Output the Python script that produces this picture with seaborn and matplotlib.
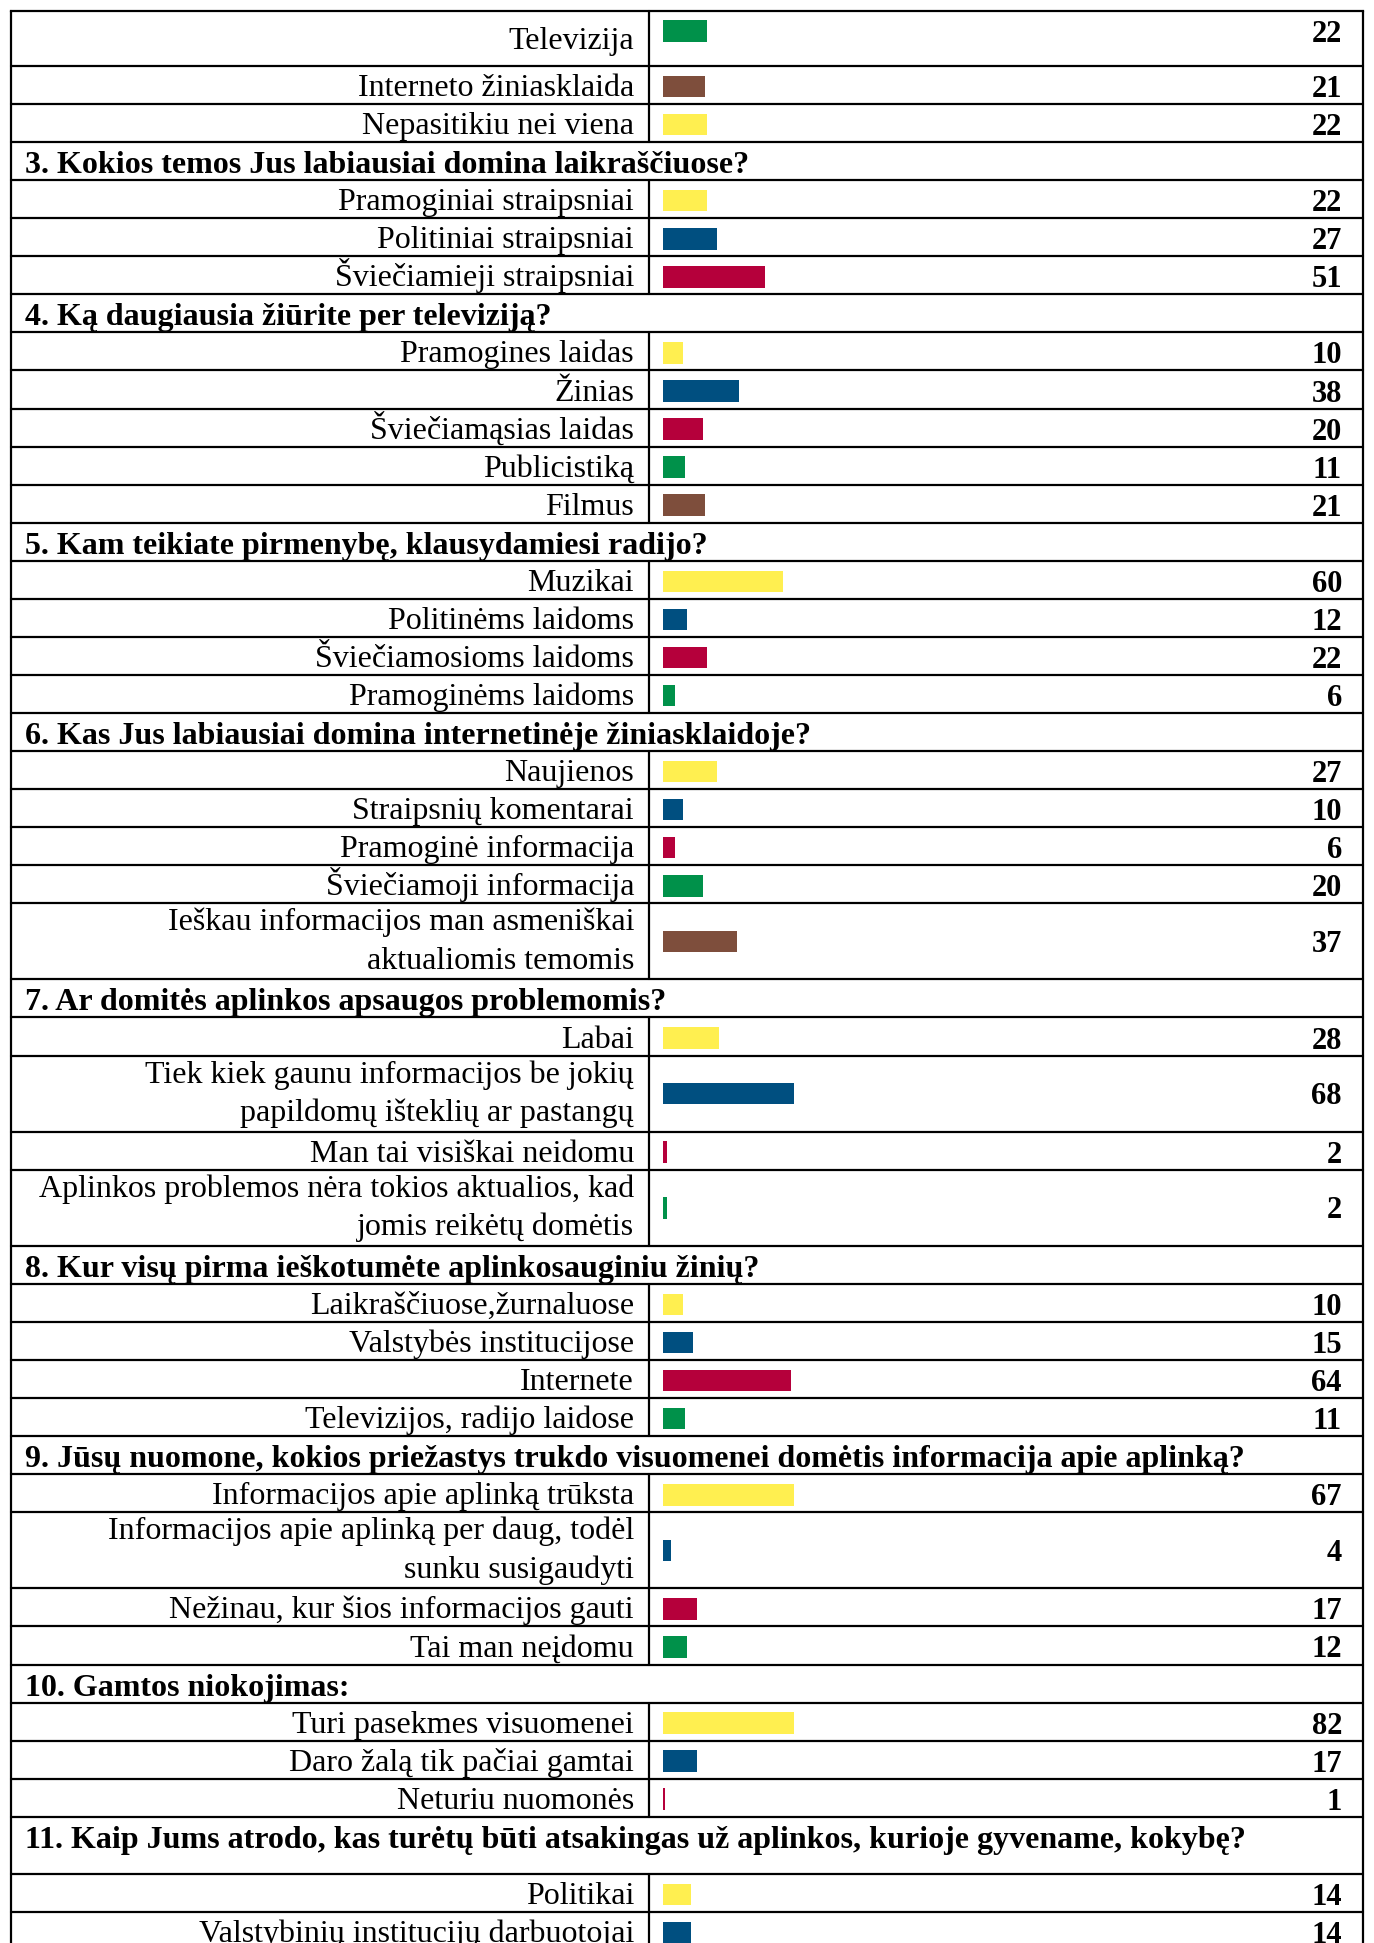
import matplotlib
matplotlib.use("Agg")
import matplotlib.pyplot as plt
import pandas as pd
import seaborn as sns

# ---------------------------------------------------------------- data
q2_answers = ["Televizija", "Interneto žiniasklaida", "Nepasitikiu nei viena"]
q2_counts = [22, 21, 22]

q3_title = "3. Kokios temos Jus labiausiai domina laikraščiuose?"
q3_answers = ["Pramoginiai straipsniai", "Politiniai straipsniai", "Šviečiamieji straipsniai"]
q3_counts = [22, 27, 51]

q4_title = "4. Ką daugiausia žiūrite per televiziją?"
q4_answers = ["Pramogines laidas", "Žinias", "Šviečiamąsias laidas", "Publicistiką", "Filmus"]
q4_counts = [10, 38, 20, 11, 21]

q5_title = "5. Kam teikiate pirmenybę, klausydamiesi radijo?"
q5_answers = ["Muzikai", "Politinėms laidoms", "Šviečiamosioms laidoms", "Pramoginėms laidoms"]
q5_counts = [60, 12, 22, 6]

q6_title = "6. Kas Jus labiausiai domina internetinėje žiniasklaidoje?"
q6_answers = ["Naujienos", "Straipsnių komentarai", "Pramoginė informacija",
              "Šviečiamoji informacija",
              "Ieškau informacijos man asmeniškai\naktualiomis temomis"]
q6_counts = [27, 10, 6, 20, 37]

q7_title = "7. Ar domitės aplinkos apsaugos problemomis?"
q7_answers = ["Labai",
              "Tiek kiek gaunu informacijos be jokių\npapildomų išteklių ar pastangų",
              "Man tai visiškai neidomu",
              "Aplinkos problemos nėra tokios aktualios, kad\njomis reikėtų domėtis"]
q7_counts = [28, 68, 2, 2]

q8_title = "8. Kur visų pirma ieškotumėte aplinkosauginiu žinių?"
q8_answers = ["Laikraščiuose,žurnaluose", "Valstybės institucijose", "Internete",
              "Televizijos, radijo laidose"]
q8_counts = [10, 15, 64, 11]

q9_title = ("9. Jūsų nuomone, kokios priežastys trukdo visuomenei domėtis "
            "informacija apie aplinką?")
q9_answers = ["Informacijos apie aplinką trūksta",
              "Informacijos apie aplinką per daug, todėl\nsunku susigaudyti",
              "Nežinau, kur šios informacijos gauti", "Tai man neįdomu"]
q9_counts = [67, 4, 17, 12]

q10_title = "10. Gamtos niokojimas:"
q10_answers = ["Turi pasekmes visuomenei", "Daro žalą tik pačiai gamtai", "Neturiu nuomonės"]
q10_counts = [82, 17, 1]

q11_title = ("11. Kaip Jums atrodo, kas turėtų būti atsakingas už aplinkos, "
             "kurioje gyvename, kokybę?")
q11_answers = ["Politikai", "Valstybinių institucijų darbuotojai"]
q11_counts = [14, 14]

# bar colours cycle through the same five shades in every question
shade_order = ["yellow", "blue", "red", "green", "brown"]
shade_hex = {"yellow": "#FFEF50", "blue": "#004F80", "red": "#B5003B",
             "green": "#00914A", "brown": "#7E4E3C"}

sections = [
    (None, q2_answers, q2_counts, 3),
    (q3_title, q3_answers, q3_counts, 0),
    (q4_title, q4_answers, q4_counts, 0),
    (q5_title, q5_answers, q5_counts, 0),
    (q6_title, q6_answers, q6_counts, 0),
    (q7_title, q7_answers, q7_counts, 0),
    (q8_title, q8_answers, q8_counts, 0),
    (q9_title, q9_answers, q9_counts, 0),
    (q10_title, q10_answers, q10_counts, 0),
    (q11_title, q11_answers, q11_counts, 0),
]

# ---------------------------------------------------------------- layout (pixels)
W, Hpx = 1374, 1943
ROW = 38.06          # height of a single-line row
TOP = 10.5
X_LEFT, X_DIV, X_RIGHT = 10.5, 649, 1363
X_LABEL = 634        # right edge of answer text
X_HEAD = 25          # left edge of question text
X_VALUE = 1342       # right edge of counts
BAR_X0 = 663
PX_PER_UNIT = 2.0
BAR_LIMIT = 65.3     # bar cell width in count units
LINE_STEP = 38.4

rows = []
for title, answers, counts, shift in sections:
    if title is not None:
        tall = 1.5 if title.startswith("11.") else 1.0
        rows.append(dict(kind="head", text=title, height=ROW * tall))
    for i, (a, c) in enumerate(zip(answers, counts)):
        n = a.count("\n") + 1
        rows.append(dict(kind="item", text=a, value=c,
                         shade=shade_order[(shift + i) % 5],
                         lines=n, height=ROW * n))
rows[0]["height"] = 55.5

y = TOP
for r in rows:
    r["top"] = y
    y += r["height"]
    r["bottom"] = y
    if r["kind"] == "item":
        if r["lines"] == 2:
            r["bar_y"] = r["top"] + r["height"] / 2
        else:
            r["bar_y"] = r["top"] + ROW / 2 + 1.5

items = [r for r in rows if r["kind"] == "item"]
bars = pd.DataFrame({
    "pos": [r["bar_y"] for r in items],
    "count": [r["value"] for r in items],
    "shade": [r["shade"] for r in items],
})

# ---------------------------------------------------------------- drawing
sns.set_theme(style="white")
plt.rcParams["font.family"] = ["Liberation Serif", "DejaVu Serif"]

fig = plt.figure(figsize=(W / 100, Hpx / 100), dpi=100)
fig.patch.set_facecolor("white")

ax = fig.add_axes([0, 0, 1, 1])
ax.set_xlim(0, W)
ax.set_ylim(Hpx, 0)
ax.axis("off")

lw = 1.6
# outer border
ax.plot([X_LEFT, X_RIGHT], [TOP, TOP], color="black", lw=lw, solid_capstyle="projecting")
ax.plot([X_LEFT, X_LEFT], [TOP, Hpx + 5], color="black", lw=lw)
ax.plot([X_RIGHT, X_RIGHT], [TOP, Hpx + 5], color="black", lw=lw)

label_size = 23
head_size = 23
value_size = 22

for r in rows:
    ax.plot([X_LEFT, X_RIGHT], [r["bottom"], r["bottom"]], color="black", lw=lw)
    if r["kind"] == "head":
        ax.text(X_HEAD, r["top"] + 31, r["text"], ha="left", va="baseline",
                fontsize=head_size, fontweight="bold", color="black")
    else:
        ax.plot([X_DIV, X_DIV], [r["top"], r["bottom"]], color="black", lw=lw)
        lines = r["text"].split("\n")
        n = len(lines)
        center = r["top"] + r["height"] / 2
        off = 11 - 2.8 * (n - 1)
        for i, line in enumerate(lines):
            yb = center + off - (n - 1) * LINE_STEP / 2 + i * LINE_STEP
            ax.text(X_LABEL, yb, line, ha="right", va="baseline",
                    fontsize=label_size, color="black")
        ax.text(X_VALUE, r["bar_y"] + 10.5, str(r["value"]), ha="right",
                va="baseline", fontsize=value_size, fontweight="bold", color="black")

# bar cell: its own axes so every bar shares one count scale
bx = fig.add_axes([BAR_X0 / W, 0, BAR_LIMIT * PX_PER_UNIT / W, 1])
sns.barplot(data=bars, x="count", y="pos", hue="shade", palette=shade_hex,
            orient="h", native_scale=True, width=0.565, dodge=False,
            saturation=1, linewidth=0, errorbar=None, legend=False, ax=bx)
bx.set_xlim(0, BAR_LIMIT)
bx.set_ylim(Hpx, 0)
bx.axis("off")
bx.patch.set_alpha(0)

fig.savefig("out.png", dpi=100, facecolor="white")
